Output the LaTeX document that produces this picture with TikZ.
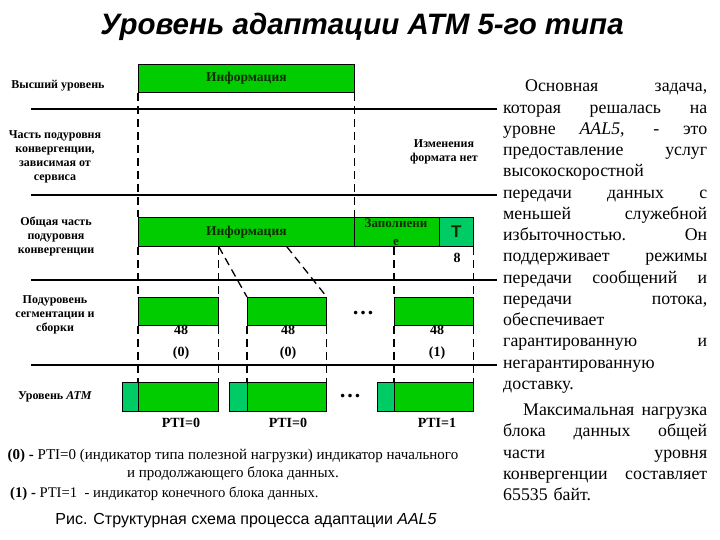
\documentclass[tikz,border=0pt]{standalone}
\usepackage{fontspec}
\setmainfont{Liberation Serif}
\setsansfont{Liberation Sans}
\definecolor{boxgreen}{RGB}{0,204,0}
\definecolor{hdrgreen}{RGB}{0,204,102}
\definecolor{txtgreen}{RGB}{16,44,0}
\newcommand\jline[1]{\makebox[204pt][s]{\spaceskip=0pt\xspaceskip=0pt #1}}
\begin{document}
\begin{tikzpicture}[x=1pt,y=-1pt,
    cell/.style={draw=black, line width=0.8pt, fill=boxgreen, inner sep=0pt,
      anchor=north west, minimum height=29pt, text=txtgreen,
      font=\bfseries\fontsize{13.5}{15}\selectfont},
    hdr/.style={cell, fill=hdrgreen},
    layer/.style={line width=2.2pt},
    cut/.style={dash pattern=on 8pt off 5pt, line width=1.3pt},
    lbl/.style={align=center, font=\bfseries\fontsize{12}{14}\selectfont},
    num/.style={font=\bfseries\fontsize{14}{16}\selectfont},
    dots/.style={font=\bfseries\fontsize{22}{22}\selectfont}]
  \useasboundingbox (0,0) rectangle (720,540);
  \node[font=\sffamily\bfseries\itshape\fontsize{29.5}{31}\selectfont] (title) at (362,27) {Уровень адаптации ATM 5-го типа};
  % layer separators
  \foreach \y in {109,195,280,365}
    \draw[layer] (31,\y) -- (497,\y);
  % left labels
  \node[lbl] (upper) at (58,86) {Высший уровень};
  \node[lbl] (sscs) at (55,157) {Часть подуровня\\конвергенции,\\зависимая от\\сервиса};
  \node[lbl] (cpcs) at (56,236) {Общая часть\\подуровня\\конвергенции};
  \node[lbl] (sar) at (55,315) {Подуровень\\сегментации и\\сборки};
  \node[lbl] (atm) at (55,397) {Уровень \textit{ATM}};
  \node[lbl] (nochange) at (444,152) {Изменения\\формата нет};
  % upper layer
  \node[cell, minimum width=216pt, minimum height=28pt] (info1) at (138,64) {Информация};
  % CPCS
  \node[cell, minimum width=216pt] (info2) at (138,217) {Информация};
  \node[cell, minimum width=85pt] (pad) at (354,217) {};
  \node[text=txtgreen, inner sep=0pt, align=center, font=\bfseries\fontsize{13}{18}\selectfont] (padtxt) at (396,232) {Заполнени\\е};
  \node[hdr, minimum width=34pt, font=\sffamily\bfseries\fontsize{17}{18}\selectfont] (trl) at (439,217) {Т};
  \node[num] (trllen) at (457,258) {8};
  % SAR
  \node[cell, minimum width=80pt, minimum height=28pt] (sar1) at (138,297) {};
  \node[cell, minimum width=79pt, minimum height=28pt] (sar2) at (247,297) {};
  \node[cell, minimum width=79pt, minimum height=28pt] (sar3) at (394,297) {};
  \node[dots] (sardots) at (363,313) {…};
  \node[num] (len1) at (181,330) {48};
  \node[num] (len2) at (288,330) {48};
  \node[num] (len3) at (437,330) {48};
  \node[num] (ind1) at (181,353) {(0)};
  \node[num] (ind2) at (288,353) {(0)};
  \node[num] (ind3) at (437,353) {(1)};
  % ATM cells
  \node[hdr, minimum width=16pt] (hdr1) at (122,382) {};
  \node[cell, minimum width=80pt] (pl1) at (138,382) {};
  \node[hdr, minimum width=18pt] (hdr2) at (229,382) {};
  \node[cell, minimum width=79pt] (pl2) at (247,382) {};
  \node[hdr, minimum width=17pt] (hdr3) at (377,382) {};
  \node[cell, minimum width=79pt] (pl3) at (394,382) {};
  \node[dots] (atmdots) at (350,396) {…};
  \node[num] (pti1) at (181,423) {PTI=0};
  \node[num] (pti2) at (288,423) {PTI=0};
  \node[num] (pti3) at (437,423) {PTI=1};
  % dashed projections
  \draw[cut] (info1.south west) -- (info2.north west);
  \draw[cut] (info1.south east) -- (info2.north east);
  \draw[cut] (info2.south west) -- (sar1.north west);
  \draw[cut] (sar1.north east |- info2.south) -- (sar1.north east);
  \draw[cut] (sar1.north east |- info2.south) -- (sar2.north west);
  \draw[cut] (sar2.north |- info2.south) -- (sar2.north east);
  \draw[cut] (sar3.north west |- info2.south) -- (sar3.north west);
  \draw[cut] (trl.south east) -- (sar3.north east);
  \draw[cut] (sar1.south west) -- (pl1.north west);
  \draw[cut] (sar1.south east) -- (pl1.north east);
  \draw[cut] (sar2.south west) -- (pl2.north west);
  \draw[cut] (sar2.south east) -- (pl2.north east);
  \draw[cut] (sar3.south west) -- (pl3.north west);
  \draw[cut] (sar3.south east) -- (pl3.north east);
  % notes
  \node[align=center, font=\fontsize{15}{18}\selectfont] (note0) at (233,465)
    {\textbf{(0) -} PTI=0 (индикатор типа полезной нагрузки) индикатор начального\\и продолжающего блока данных.};
  \node[anchor=west, inner sep=0pt, font=\fontsize{14.7}{18}\selectfont] (note1) at (10,494)
    {\textbf{(1) -} PTI=1 \ - индикатор конечного блока данных.};
  \node[font=\sffamily\fontsize{16}{18}\selectfont] (caption) at (246,521)
    {Рис. Структурная схема процесса адаптации \textit{AAL5}};
  % right text
  \node[anchor=north west, inner sep=0pt, text width=204pt, align=left,
    font=\fontsize{17.8}{21.25}\selectfont] (task) at (503,80)
    {\jline{\hspace*{22pt}Основная задача,}\\
     \jline{которая решалась на}\\
     \jline{уровне \textit{AAL5}, - это}\\
     \jline{предоставление услуг}\\
     высокоскоростной\\
     \jline{передачи данных с}\\
     \jline{меньшей служебной}\\
     \jline{избыточностью. Он}\\
     \jline{поддерживает режимы}\\
     \jline{передачи сообщений и}\\
     \jline{передачи потока,}\\
     обеспечивает\\
     \jline{гарантированную и}\\
     негарантированную\\
     доставку.\\[5pt]
     \jline{\hspace*{20pt}Максимальная нагрузка}\\
     \jline{блока данных общей}\\
     \jline{части уровня}\\
     \jline{конвергенции составляет}\\
     65535 байт.};
\end{tikzpicture}
\end{document}
